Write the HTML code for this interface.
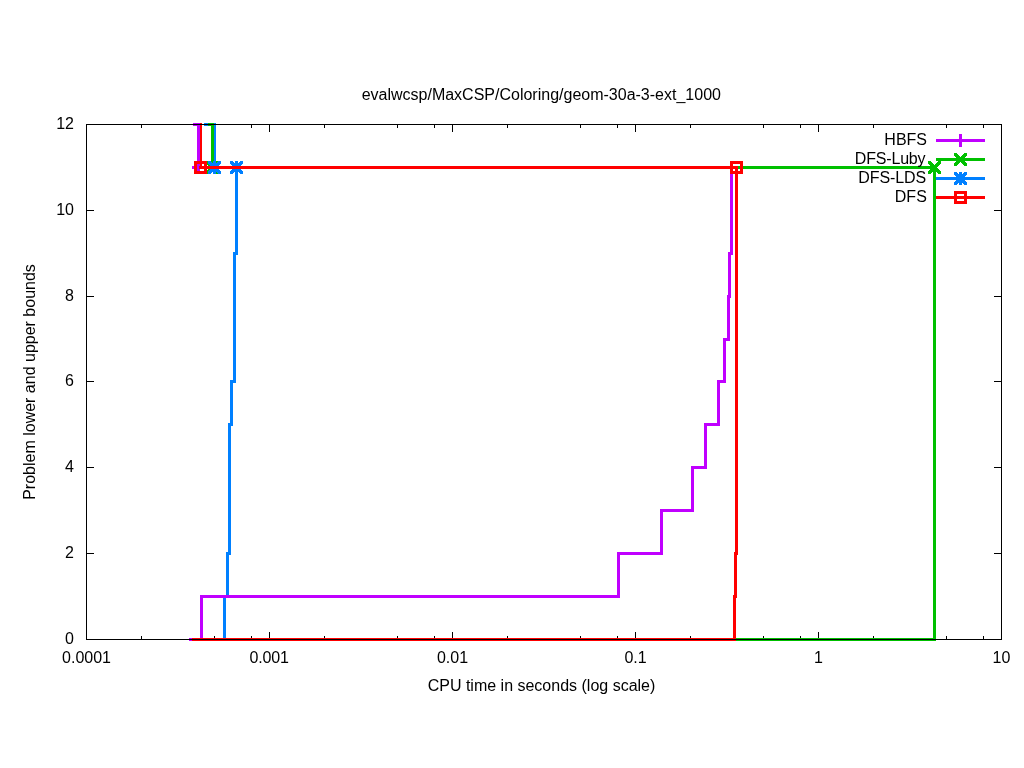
<!DOCTYPE html>
<html lang="en"><head><meta charset="utf-8"><title>evalwcsp/MaxCSP/Coloring/geom-30a-3-ext_1000</title>
<style>
html,body{margin:0;padding:0;background:#fff;}
body{width:1024px;height:768px;overflow:hidden;}
svg{display:block;}
text{font-family:"Liberation Sans",Arial,sans-serif;font-size:16px;fill:#000;}
.ln path{fill:none;stroke-width:3;stroke-linejoin:miter;stroke-linecap:butt;}
</style></head><body>
<svg width="1024" height="768" viewBox="0 0 1024 768">
<rect width="1024" height="768" fill="#fff"/>
<defs>
<path id="mx" d="M-6.5 -6.5h3v1h-3zM3.5 -6.5h3v1h-3zM-6.5 -5.5h4v1h-4zM2.5 -5.5h4v1h-4zM-6.5 -4.5h5v1h-5zM1.5 -4.5h5v1h-5zM-5.5 -3.5h5v1h-5zM0.5 -3.5h5v1h-5zM-4.5 -2.5h5v1h-5zM-0.5 -2.5h5v1h-5zM-3.5 -1.5h5v1h-5zM-1.5 -1.5h5v1h-5zM-2.5 -0.5h5v1h-5zM-2.5 -0.5h5v1h-5zM-1.5 0.5h5v1h-5zM-3.5 0.5h5v1h-5zM-0.5 1.5h5v1h-5zM-4.5 1.5h5v1h-5zM0.5 2.5h5v1h-5zM-5.5 2.5h5v1h-5zM1.5 3.5h5v1h-5zM-6.5 3.5h5v1h-5zM2.5 4.5h4v1h-4zM-6.5 4.5h4v1h-4zM3.5 5.5h3v1h-3zM-6.5 5.5h3v1h-3z"/>
<path id="mp" d="M-1.5 -6.5h3v1h-3zM-1.5 -5.5h3v1h-3zM-1.5 -4.5h3v1h-3zM-1.5 -3.5h3v1h-3zM-1.5 -2.5h3v1h-3zM-1.5 -1.5h3v1h-3zM-1.5 -0.5h3v1h-3zM-1.5 0.5h3v1h-3zM-1.5 1.5h3v1h-3zM-1.5 2.5h3v1h-3zM-1.5 3.5h3v1h-3zM-1.5 4.5h3v1h-3zM-1.5 5.5h3v1h-3zM-6.5 -1.5h13v1h-13zM-6.5 -0.5h13v1h-13zM-6.5 0.5h13v1h-13z"/>
<path id="ms" d="M-6.5 -6.5h3v1h-3zM3.5 -6.5h3v1h-3zM-6.5 -5.5h4v1h-4zM2.5 -5.5h4v1h-4zM-6.5 -4.5h5v1h-5zM1.5 -4.5h5v1h-5zM-5.5 -3.5h5v1h-5zM0.5 -3.5h5v1h-5zM-4.5 -2.5h5v1h-5zM-0.5 -2.5h5v1h-5zM-3.5 -1.5h5v1h-5zM-1.5 -1.5h5v1h-5zM-2.5 -0.5h5v1h-5zM-2.5 -0.5h5v1h-5zM-1.5 0.5h5v1h-5zM-3.5 0.5h5v1h-5zM-0.5 1.5h5v1h-5zM-4.5 1.5h5v1h-5zM0.5 2.5h5v1h-5zM-5.5 2.5h5v1h-5zM1.5 3.5h5v1h-5zM-6.5 3.5h5v1h-5zM2.5 4.5h4v1h-4zM-6.5 4.5h4v1h-4zM3.5 5.5h3v1h-3zM-6.5 5.5h3v1h-3zM-1.5 -6.5h3v1h-3zM-1.5 -5.5h3v1h-3zM-1.5 -4.5h3v1h-3zM-1.5 -3.5h3v1h-3zM-1.5 -2.5h3v1h-3zM-1.5 -1.5h3v1h-3zM-1.5 -0.5h3v1h-3zM-1.5 0.5h3v1h-3zM-1.5 1.5h3v1h-3zM-1.5 2.5h3v1h-3zM-1.5 3.5h3v1h-3zM-1.5 4.5h3v1h-3zM-1.5 5.5h3v1h-3zM-6.5 -1.5h13v1h-13zM-6.5 -0.5h13v1h-13zM-6.5 0.5h13v1h-13z"/>
<path id="mq" fill-rule="evenodd" d="M-6.5 -6.5h13v13h-13zM-3.5 -3.5h7v7h-7z"/>
</defs>
<path shape-rendering="crispEdges" fill="#000" d="M141 124h1v4h-1zM141 636h1v4h-1zM214 124h1v4h-1zM214 636h1v4h-1zM251 124h1v4h-1zM251 636h1v4h-1zM269 124h1v8h-1zM269 632h1v8h-1zM324 124h1v4h-1zM324 636h1v4h-1zM397 124h1v4h-1zM397 636h1v4h-1zM434 124h1v4h-1zM434 636h1v4h-1zM452 124h1v8h-1zM452 632h1v8h-1zM507 124h1v4h-1zM507 636h1v4h-1zM580 124h1v4h-1zM580 636h1v4h-1zM617 124h1v4h-1zM617 636h1v4h-1zM635 124h1v8h-1zM635 632h1v8h-1zM690 124h1v4h-1zM690 636h1v4h-1zM763 124h1v4h-1zM763 636h1v4h-1zM800 124h1v4h-1zM800 636h1v4h-1zM818 124h1v8h-1zM818 632h1v8h-1zM873 124h1v4h-1zM873 636h1v4h-1zM946 124h1v4h-1zM946 636h1v4h-1zM983 124h1v4h-1zM983 636h1v4h-1zM86 553h8v1h-8zM994 553h8v1h-8zM86 467h8v1h-8zM994 467h8v1h-8zM86 381h8v1h-8zM994 381h8v1h-8zM86 296h8v1h-8zM994 296h8v1h-8zM86 210h8v1h-8zM994 210h8v1h-8z"/>
<g class="ln" shape-rendering="crispEdges">
<path d="M204 124.5 L214.5 124.5 L214.5 167.5 L236.5 167.5 L236.5 253.5 L234.5 253.5 L234.5 381.5 L231.5 381.5 L231.5 424.5 L229.5 424.5 L229.5 553.5 L227.5 553.5 L227.5 596.5 L224.5 596.5 L224.5 639.5 L210 639.5" stroke="#0080ff" />
<path d="M936 178.5 L985 178.5" stroke="#0080ff" />
<path d="M208 124.5 L212.5 124.5 L212.5 167.5 L934.5 167.5 L934.5 639.5 L210 639.5" stroke="#00c000" />
<path d="M936 159.5 L985 159.5" stroke="#00c000" />
<path d="M193 124.5 L198.5 124.5 L198.5 167.5 L731.5 167.5 L731.5 253.5 L729.5 253.5 L729.5 296.5 L728.5 296.5 L728.5 339.5 L724.5 339.5 L724.5 381.5 L718.5 381.5 L718.5 424.5 L705.5 424.5 L705.5 467.5 L692.5 467.5 L692.5 510.5 L661.5 510.5 L661.5 553.5 L618.5 553.5 L618.5 596.5 L201.5 596.5 L201.5 639.5 L189 639.5" stroke="#c000ff" />
<path d="M936 140.5 L985 140.5" stroke="#c000ff" />
</g><g shape-rendering="crispEdges">
<use href="#mp" x="198.5" y="167.5" fill="#c000ff"/>
<use href="#mp" x="960.5" y="140.5" fill="#c000ff"/>
<use href="#mx" x="212.5" y="167.5" fill="#00c000"/>
<use href="#mx" x="934.5" y="167.5" fill="#00c000"/>
<use href="#mx" x="960.5" y="159.5" fill="#00c000"/>
<use href="#ms" x="214.5" y="167.5" fill="#0080ff"/>
<use href="#ms" x="236.5" y="167.5" fill="#0080ff"/>
<use href="#ms" x="960.5" y="178.5" fill="#0080ff"/>
</g><g class="ln" shape-rendering="crispEdges">
<rect x="200" y="123" width="2" height="46" fill="#ff0000"/>
<path d="M199 167.5 L736.5 167.5 L736.5 553.5 L735.5 553.5 L735.5 596.5 L734.5 596.5 L734.5 639.5 L192 639.5" stroke="#ff0000" />
<path d="M936 197.5 L985 197.5" stroke="#ff0000" />
</g><g shape-rendering="crispEdges">
<use href="#mq" x="200.5" y="167.5" fill="#ff0000"/>
<use href="#mq" x="736.5" y="167.5" fill="#ff0000"/>
<use href="#mq" x="960.5" y="197.5" fill="#ff0000"/>
</g>
<g shape-rendering="crispEdges" fill="#000">
<path fill-rule="evenodd" d="M86 124h916v516h-916zM87 125h914v514h-914z"/>
</g>
<g>
<text x="541.3" y="100" text-anchor="middle">evalwcsp/MaxCSP/Coloring/geom-30a-3-ext_1000</text>
<text x="74" y="644" text-anchor="end">0</text>
<text x="74" y="558" text-anchor="end">2</text>
<text x="74" y="472" text-anchor="end">4</text>
<text x="74" y="386" text-anchor="end">6</text>
<text x="74" y="301" text-anchor="end">8</text>
<text x="74" y="215" text-anchor="end">10</text>
<text x="74" y="129" text-anchor="end">12</text>
<text x="86.5" y="663" text-anchor="middle">0.0001</text>
<text x="269.1" y="663" text-anchor="middle" textLength="39.4" lengthAdjust="spacing">0.001</text>
<text x="452.5" y="663" text-anchor="middle">0.01</text>
<text x="635.5" y="663" text-anchor="middle">0.1</text>
<text x="818.5" y="663" text-anchor="middle">1</text>
<text x="1001.5" y="663" text-anchor="middle">10</text>
<text x="541.5" y="691" text-anchor="middle">CPU time in seconds (log scale)</text>
<text transform="translate(35 382) rotate(-90)" text-anchor="middle">Problem lower and upper bounds</text>
<text x="927" y="145" text-anchor="end">HBFS</text>
<text x="925.6" y="164" text-anchor="end" textLength="70.8" lengthAdjust="spacing">DFS-Luby</text>
<text x="926.2" y="183" text-anchor="end" textLength="67.9" lengthAdjust="spacing">DFS-LDS</text>
<text x="926.8" y="202" text-anchor="end">DFS</text>
</g>
</svg></body></html>
